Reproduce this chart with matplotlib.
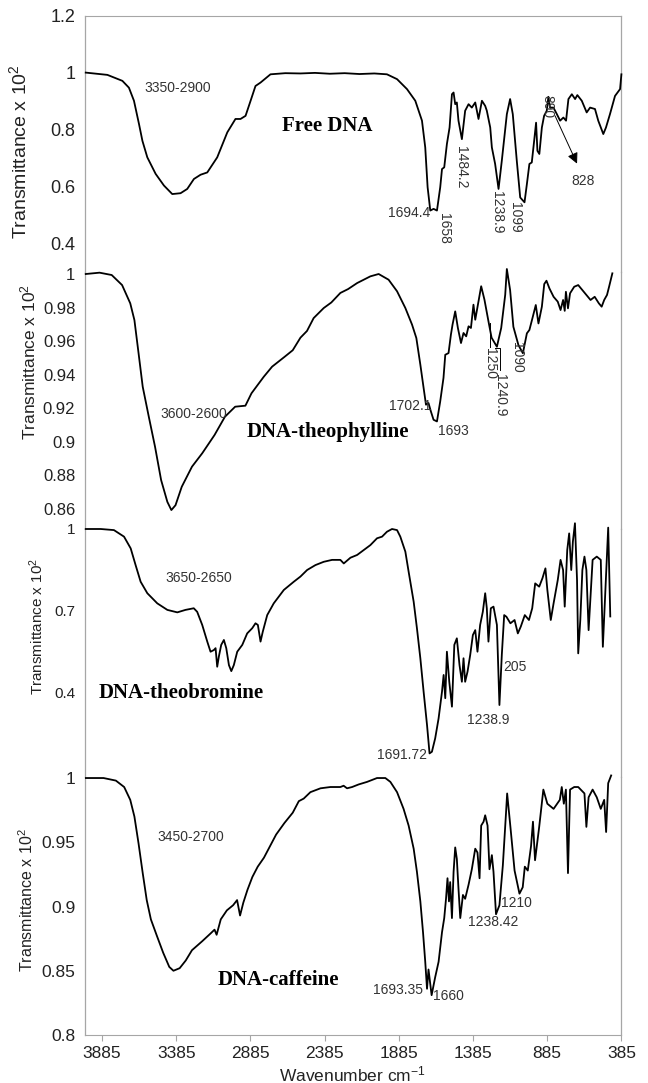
import matplotlib
matplotlib.use("Agg")
import matplotlib.pyplot as plt

plt.rcParams["font.family"] = ["Liberation Sans", "DejaVu Sans"]
plt.rcParams["mathtext.fontset"] = "custom"
plt.rcParams["mathtext.rm"] = "Liberation Sans"
plt.rcParams["mathtext.default"] = "regular"

# ---- FTIR spectra (wavenumber cm-1, transmittance x 10^2) ----
dna_wn = [3995, 3849, 3748, 3704, 3670, 3636, 3613, 3580, 3524, 3468, 3412, 3356,
          3311, 3266, 3221, 3176, 3109, 3041, 2986, 2952, 2918, 2884, 2851, 2817,
          2750, 2650, 2548, 2450, 2350, 2250, 2150, 2050, 1965, 1897, 1830, 1774,
          1729, 1707, 1691, 1673, 1651, 1628, 1606, 1594, 1579, 1561, 1543, 1527,
          1516, 1505, 1494, 1483, 1460, 1438, 1415, 1393, 1370, 1348, 1325, 1303,
          1292, 1269, 1258, 1236, 1213, 1191, 1157, 1135, 1117, 1090, 1067, 1038,
          1022, 1005, 989, 973, 960, 951, 938, 921, 906, 888, 877, 866, 843, 820,
          798, 776, 758, 742, 719, 697, 682, 652, 619, 596, 563, 541, 507, 489,
          462, 428, 394, 385]
dna_tr = [1.001, 0.993, 0.972, 0.948, 0.902, 0.820, 0.761, 0.703, 0.645, 0.604, 0.574, 0.577,
          0.592, 0.627, 0.642, 0.650, 0.703, 0.791, 0.838, 0.838, 0.849, 0.902, 0.954, 0.966,
          0.995, 0.999, 0.998, 1.000, 0.997, 0.999, 0.996, 0.998, 0.995, 0.978, 0.943, 0.902,
          0.832, 0.738, 0.598, 0.516, 0.522, 0.516, 0.598, 0.662, 0.668, 0.750, 0.808, 0.925,
          0.931, 0.890, 0.896, 0.832, 0.767, 0.867, 0.890, 0.878, 0.896, 0.838, 0.902, 0.884,
          0.867, 0.808, 0.738, 0.680, 0.592, 0.691, 0.855, 0.908, 0.855, 0.691, 0.562, 0.545,
          0.609, 0.680, 0.685, 0.761, 0.825, 0.726, 0.715, 0.808, 0.849, 0.867, 0.916, 0.878, 0.878, 0.855,
          0.832, 0.843, 0.832, 0.908, 0.925, 0.908, 0.922, 0.902, 0.861, 0.878, 0.873, 0.832, 0.785, 0.808,
          0.855, 0.919, 0.943, 0.995]

theo_wn = [3995, 3902, 3820, 3750, 3695, 3667, 3639, 3611, 3570, 3528, 3487, 3445,
           3418, 3390, 3348, 3279, 3210, 3127, 3057, 2988, 2919, 2878, 2837, 2795,
           2739, 2656, 2600, 2548, 2504, 2459, 2391, 2340, 2279, 2227, 2166, 2077,
           2021, 1954, 1897, 1841, 1796, 1767, 1740, 1718, 1702, 1685, 1669, 1651,
           1628, 1606, 1584, 1572, 1550, 1534, 1523, 1505, 1487, 1466, 1449, 1431,
           1415, 1399, 1382, 1370, 1352, 1330, 1308, 1281, 1260, 1224, 1195, 1168,
           1157, 1135, 1113, 1079, 1049, 1022, 1005, 982, 962, 944, 921, 905, 890,
           870, 842, 814, 795, 778, 767, 759, 745, 731, 703, 676, 648, 621, 593,
           565, 537, 518, 501, 482, 468, 446]
theo_tr = [1.0000, 1.0008, 0.9994, 0.9934, 0.9825, 0.9725, 0.9527, 0.9327, 0.9148, 0.8969, 0.8770, 0.8640,
           0.8591, 0.8620, 0.8730, 0.8850, 0.8930, 0.9039, 0.9148, 0.9208, 0.9214, 0.9288, 0.9337, 0.9387,
           0.9447, 0.9505, 0.9545, 0.9620, 0.9660, 0.9737, 0.9797, 0.9830, 0.9887, 0.9910, 0.9946, 0.9986,
           1.0000, 0.9966, 0.9897, 0.9797, 0.9698, 0.9618, 0.9459, 0.9320, 0.9220, 0.9230, 0.9180, 0.9130,
           0.9120, 0.9240, 0.9380, 0.9518, 0.9528, 0.9638, 0.9698, 0.9777, 0.9678, 0.9588, 0.9648, 0.9628,
           0.9688, 0.9678, 0.9817, 0.9727, 0.9817, 0.9927, 0.9847, 0.9718, 0.9620, 0.9566, 0.9678, 0.9876,
           1.0030, 0.9904, 0.9685, 0.9576, 0.9527, 0.9646, 0.9666, 0.9745, 0.9815, 0.9705, 0.9805, 0.9940, 0.9960,
           0.9914, 0.9864, 0.9835, 0.9785, 0.9845, 0.9780, 0.9894, 0.9795, 0.9885, 0.9924, 0.9934, 0.9904, 0.9875, 0.9845,
           0.9864, 0.9825, 0.9805, 0.9845, 0.9875, 0.9924, 1.0004]

brom_wn = [3995, 3894, 3805, 3737, 3692, 3659, 3625, 3580, 3513, 3445, 3378, 3323,
           3267, 3244, 3210, 3176, 3154, 3132, 3120, 3109, 3098, 3082, 3064, 3048,
           3030, 3014, 2997, 2974, 2940, 2907, 2873, 2851, 2835, 2817, 2802, 2772,
           2728, 2660, 2593, 2548, 2503, 2447, 2391, 2335, 2279, 2256, 2211, 2166,
           2122, 2077, 2032, 1998, 1965, 1931, 1897, 1875, 1841, 1819, 1785, 1763,
           1740, 1718, 1695, 1678, 1662, 1640, 1617, 1594, 1583, 1572, 1561, 1545,
           1527, 1511, 1494, 1476, 1460, 1449, 1438, 1422, 1404, 1386, 1370, 1355,
           1337, 1319, 1303, 1292, 1281, 1265, 1247, 1224, 1207, 1191, 1175, 1160,
           1133, 1105, 1083, 1063, 1036, 1008, 986, 966, 939, 917, 897, 884, 861,
           842, 814, 795, 778, 767, 750, 737, 723, 712, 698, 684, 676, 662, 648,
           634, 621, 606, 579, 551, 524, 510, 490, 474, 460]
brom_tr = [1.000, 1.000, 0.996, 0.972, 0.929, 0.868, 0.807, 0.765, 0.728, 0.704, 0.695, 0.704,
           0.710, 0.697, 0.649, 0.588, 0.551, 0.557, 0.564, 0.496, 0.533, 0.576, 0.594, 0.564,
           0.502, 0.480, 0.502, 0.551, 0.576, 0.618, 0.637, 0.655, 0.649, 0.588, 0.624, 0.685,
           0.728, 0.777, 0.807, 0.826, 0.850, 0.868, 0.880, 0.887, 0.887, 0.874, 0.895, 0.905,
           0.923, 0.941, 0.966, 0.972, 0.990, 1.000, 0.996, 0.972, 0.917, 0.844, 0.734, 0.637,
           0.527, 0.405, 0.283, 0.179, 0.185, 0.234, 0.307, 0.405, 0.466, 0.381, 0.551, 0.441,
           0.350, 0.576, 0.600, 0.502, 0.441, 0.527, 0.441, 0.478, 0.539, 0.612, 0.630, 0.551,
           0.649, 0.697, 0.765, 0.710, 0.588, 0.710, 0.716, 0.649, 0.356, 0.539, 0.685, 0.679,
           0.655, 0.667, 0.618, 0.643, 0.685, 0.667, 0.710, 0.801, 0.789, 0.820, 0.856, 0.777, 0.667,
           0.728, 0.813, 0.887, 0.850, 0.716, 0.923, 0.984, 0.850, 0.954, 1.021, 0.813, 0.545, 0.667, 0.850,
           0.899, 0.850, 0.630, 0.887, 0.899, 0.887, 0.569, 0.813, 1.005, 0.680]

caff_wn = [3994, 3875, 3792, 3736, 3695, 3667, 3639, 3611, 3584, 3556, 3515, 3473,
           3432, 3404, 3362, 3321, 3279, 3210, 3154, 3127, 3113, 3085, 3044, 3002,
           2975, 2955, 2933, 2905, 2872, 2836, 2794, 2753, 2712, 2656, 2600, 2559,
           2526, 2481, 2413, 2346, 2279, 2257, 2234, 2200, 2156, 2099, 2032, 1976,
           1942, 1897, 1853, 1819, 1785, 1763, 1740, 1722, 1707, 1695, 1685, 1664,
           1640, 1617, 1594, 1579, 1567, 1557, 1547, 1539, 1527, 1516, 1505, 1494,
           1483, 1471, 1453, 1438, 1415, 1393, 1370, 1355, 1341, 1330, 1314, 1303,
           1287, 1274, 1258, 1247, 1230, 1207, 1184, 1162, 1155, 1133, 1105, 1072,
           1050, 1036, 1016, 994, 981, 967, 939, 911, 884, 842, 800, 787, 773, 759,
           745, 731, 703, 676, 634, 621, 606, 579, 551, 524, 501, 488, 474, 454]
caff_tr = [1.000, 1.000, 0.998, 0.993, 0.983, 0.970, 0.949, 0.926, 0.905, 0.890, 0.877, 0.864,
           0.853, 0.850, 0.852, 0.858, 0.866, 0.873, 0.879, 0.882, 0.878, 0.890, 0.897, 0.901,
           0.905, 0.893, 0.903, 0.913, 0.923, 0.931, 0.938, 0.947, 0.956, 0.965, 0.973, 0.982,
           0.984, 0.989, 0.992, 0.993, 0.993, 0.994, 0.992, 0.993, 0.995, 0.997, 1.000, 1.000,
           0.997, 0.989, 0.976, 0.963, 0.945, 0.927, 0.904, 0.880, 0.857, 0.836, 0.851, 0.831,
           0.845, 0.857, 0.880, 0.891, 0.906, 0.922, 0.904, 0.919, 0.891, 0.927, 0.946, 0.937,
           0.914, 0.891, 0.909, 0.906, 0.917, 0.929, 0.945, 0.942, 0.922, 0.963, 0.966, 0.971,
           0.963, 0.929, 0.940, 0.927, 0.894, 0.901, 0.932, 0.974, 0.988, 0.962, 0.928, 0.910,
           0.915, 0.931, 0.928, 0.947, 0.966, 0.936, 0.962, 0.991, 0.980, 0.976, 0.983, 0.993, 0.980, 0.991,
           0.926, 0.991, 0.993, 0.993, 0.988, 0.962, 0.985, 0.991, 0.985, 0.976, 0.983, 0.958, 0.996, 1.002]

x_ticks = [3885, 3385, 2885, 2385, 1885, 1385, 885, 385]

# panel layout in pixels: (top, bottom), y limits, y ticks, tick font size
W, H = 648, 1083
left_px, right_px = 85, 621.4
panels = [
    dict(wn=dna_wn, tr=dna_tr, top=16, bot=272, ylim=(0.3, 1.2),
         yt=[0.4, 0.6, 0.8, 1.0, 1.2], ytl=["0.4", "0.6", "0.8", "1", "1.2"], fs=13),
    dict(wn=theo_wn, tr=theo_tr, top=272, bot=529, ylim=(0.8478, 1.0012),
         yt=[0.86, 0.88, 0.90, 0.92, 0.94, 0.96, 0.98, 1.0],
         ytl=["0.86", "0.88", "0.9", "0.92", "0.94", "0.96", "0.98", "1"], fs=12),
    dict(wn=brom_wn, tr=brom_tr, top=529, bot=777, ylim=(0.0926, 1.0),
         yt=[0.4, 0.7, 1.0], ytl=["0.4", "0.7", "1"], fs=11),
    dict(wn=caff_wn, tr=caff_tr, top=777, bot=1035, ylim=(0.8, 1.0008),
         yt=[0.8, 0.85, 0.9, 0.95, 1.0], ytl=["0.8", "0.85", "0.9", "0.95", "1"], fs=12.5),
]

fig = plt.figure(figsize=(W / 100, H / 100), dpi=100)
frame = "#a6a6a6"
axes = []
for i, p in enumerate(panels):
    ax = fig.add_axes([left_px / W, 1 - p["bot"] / H,
                       (right_px - left_px) / W, (p["bot"] - p["top"]) / H])
    ax.plot(p["wn"], p["tr"], color="black", lw=1.3, clip_on=False, zorder=3)
    ax.set_xlim(4000, 385)
    ax.set_ylim(*p["ylim"])
    ax.set_yticks(p["yt"])
    ax.set_yticklabels(p["ytl"])
    ax.tick_params(axis="y", length=0, pad=7, labelsize=p["fs"], labelcolor="#222222")
    for s in ["left", "right"]:
        ax.spines[s].set_color(frame)
        ax.spines[s].set_linewidth(0.9)
    ax.spines["top"].set_visible(i == 0)
    ax.spines["top"].set_color(frame)
    ax.spines["bottom"].set_visible(i == 3)
    ax.spines["bottom"].set_color(frame)
    ax.patch.set_visible(False)
    if i < 3:
        ax.tick_params(axis="x", bottom=False, labelbottom=False)
    else:
        ax.set_xticks(x_ticks)
        ax.set_xticklabels([str(t) for t in x_ticks])
        ax.tick_params(axis="x", direction="out", length=4, color=frame,
                       labelsize=12.5, labelcolor="#222222", pad=4)
    axes.append(ax)

# x axis title, below the tick labels
fig.text(352 / W, 1 - 1074 / H, "Wavenumber cm$^{-1}$", ha="center", va="center",
         fontsize=12.5, color="#222222")

# y axis titles
ylab = "Transmittance x 10$^2$"
for xp, yp, fs in [(19, 152, 14), (28, 362, 12.5), (37, 626, 11), (27, 900, 11.5)]:
    fig.text(xp / W, 1 - yp / H, ylab, rotation=90, ha="center", va="center",
             fontsize=fs, color="#222222")

ann = dict(fontsize=10, color="#333333", ha="center", va="center")
rot = dict(fontsize=10, color="#333333", ha="center", va="center", rotation=-90)
bold = dict(fontsize=15, fontweight="bold", family="Liberation Serif",
            ha="center", va="center", color="black")

# Free DNA
ax = axes[0]
ax.text(3376, 0.947, "3350-2900", **ann)
ax.text(2370, 0.815, "Free DNA", **bold)
ax.text(1815, 0.509, "1694.4", **ann)
ax.text(1580, 0.453, "1658", **rot)
ax.text(1465, 0.670, "1484.2", **rot)
ax.text(1222, 0.509, "1238.9", **rot)
ax.text(1100, 0.491, "1099", **rot)
ax.text(886, 0.881, "890", **rot)
ax.text(643, 0.621, "828", **ann)
ax.annotate("", xy=(684, 0.681), xytext=(832, 0.849),
            arrowprops=dict(arrowstyle="-|>", color="black", lw=0.7,
                            mutation_scale=16, shrinkA=0, shrinkB=0))

# DNA-theophylline
ax = axes[1]
ax.text(3268, 0.9164, "3600-2600", **ann)
ax.text(2360, 0.9057, "DNA-theophylline", **bold)
ax.text(1808, 0.9212, "1702.1", **ann)
ax.text(1518, 0.9063, "1693", **ann)
ax.text(1269, 0.9463, "1250", **rot)
ax.text(1202, 0.9278, "1240.9", **rot)
ax.text(1088, 0.9504, "1090", **rot)
ax.plot([1269, 1269], [0.9707, 0.9564], color="black", lw=0.7)
ax.plot([1235, 1202, 1202], [0.9558, 0.9558, 0.9430], color="black", lw=0.7)

# DNA-theobromine
ax = axes[2]
ax.text(3235, 0.821, "3650-2650", **ann)
ax.text(3349, 0.400, "DNA-theobromine", **bold)
ax.text(1861, 0.173, "1691.72", **ann)
ax.text(1283, 0.301, "1238.9", **ann)
ax.text(1101, 0.495, "205", **ann)

# DNA-caffeine
ax = axes[3]
ax.text(3288, 0.954, "3450-2700", **ann)
ax.text(2696, 0.843, "DNA-caffeine", **bold)
ax.text(1888, 0.835, "1693.35", **ann)
ax.text(1552, 0.830, "1660", **ann)
ax.text(1249, 0.888, "1238.42", **ann)
ax.text(1094, 0.903, "1210", **ann)

fig.savefig("out.png", dpi=100)
